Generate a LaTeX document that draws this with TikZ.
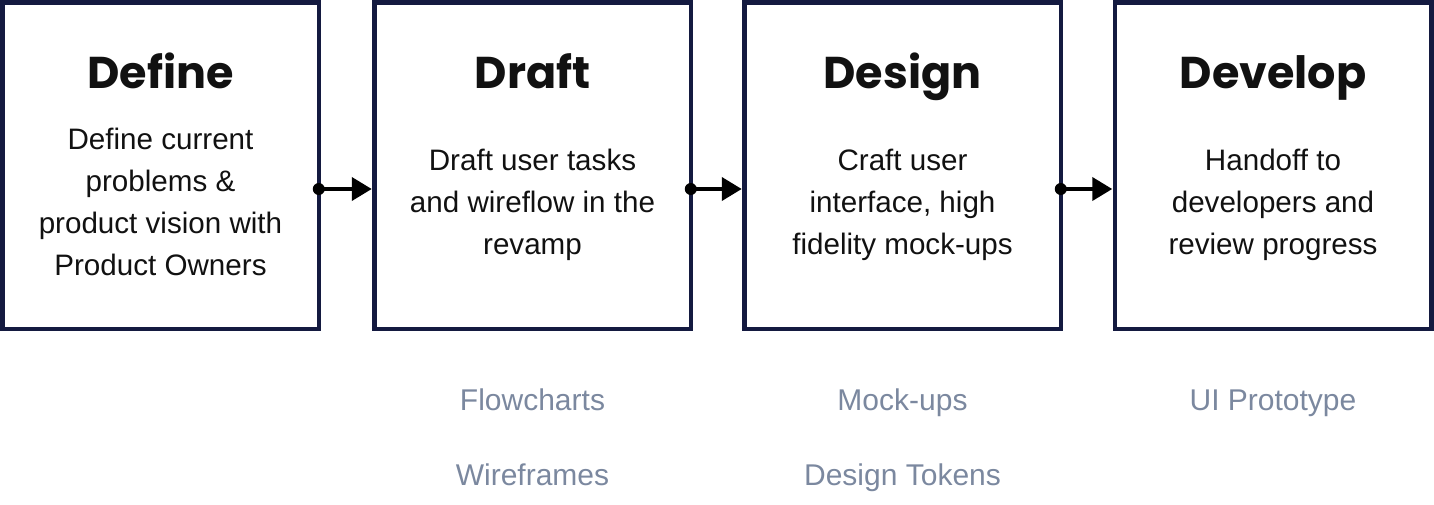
\documentclass[tikz,border=0pt]{standalone}
\usepackage{fontspec}
\setmainfont{Liberation Sans}
\newfontfamily\titlefont{Poppins}
\usetikzlibrary{arrows.meta}
\definecolor{boxline}{HTML}{141A40}
\definecolor{subgrey}{HTML}{7B889F}
\definecolor{ink}{HTML}{111111}
\begin{document}
\begin{tikzpicture}[x=1pt,y=-1pt,
  stagebox/.style={draw=boxline,line width=4.5pt,rectangle,inner sep=0pt,outer sep=0pt,minimum width=316.5pt,minimum height=326.5pt},
  titletext/.style={font=\titlefont\bfseries\fontsize{44.5}{46}\selectfont,text=ink,anchor=base,inner sep=0pt},
  bodytext/.style={font=\fontsize{29.6}{31}\selectfont,text=ink,anchor=base,inner sep=0pt},
  subtext/.style={font=\fontsize{30}{31}\selectfont,text=subgrey,anchor=base,inner sep=0pt},
  flow/.style={line width=4pt,draw=black,-{Triangle[length=20pt,width=23pt]},shorten >=2.5pt}
]
\useasboundingbox (0,0) rectangle (1434,504);
\node[stagebox] (define) at (160.5,165.5) {};
\node[stagebox] (draft) at (532.5,165.5) {};
\node[stagebox] (design) at (902.5,165.5) {};
\node[stagebox] (develop) at (1273,165.5) {};
% titles
\node[titletext] (tdefine) at (160.5,88) {Define};
\node[titletext] (tdraft) at (532.5,88) {Draft};
\node[titletext] (tdesign) at (902.5,88) {Design};
\node[titletext] (tdevelop) at (1273,88) {Develop};
% bodies
\node[bodytext] (b11) at (160.5,149.3) {Define current};
\node[bodytext] (b12) at (160.5,191.3) {problems \&};
\node[bodytext] (b13) at (160.5,233.3) {product vision with};
\node[bodytext] (b14) at (160.5,275.3) {Product Owners};
\node[bodytext] (b21) at (532.5,170.3) {Draft user tasks};
\node[bodytext] (b22) at (532.5,212.3) {and wireflow in the};
\node[bodytext] (b23) at (532.5,254.3) {revamp};
\node[bodytext] (b31) at (902.5,170.3) {Craft user};
\node[bodytext] (b32) at (902.5,212.3) {interface, high};
\node[bodytext] (b33) at (902.5,254.3) {fidelity mock-ups};
\node[bodytext] (b41) at (1273,170.3) {Handoff to};
\node[bodytext] (b42) at (1273,212.3) {developers and};
\node[bodytext] (b43) at (1273,254.3) {review progress};
% sub labels
\node[subtext] (s21) at (532.5,410) {Flowcharts};
\node[subtext] (s22) at (532.5,485) {Wireframes};
\node[subtext] (s31) at (902.5,410) {Mock-ups};
\node[subtext] (s32) at (902.5,485) {Design Tokens};
\node[subtext] (s41) at (1273,410) {UI Prototype};
% connectors
\foreach \a/\b in {define/draft,draft/design,design/develop}{
  \fill[black] ([yshift=-23.5pt]\a.east) circle (6pt);
  \draw[flow] ([yshift=-23.5pt]\a.east) -- ([yshift=-23.5pt]\b.west);
}
\end{tikzpicture}
\end{document}
